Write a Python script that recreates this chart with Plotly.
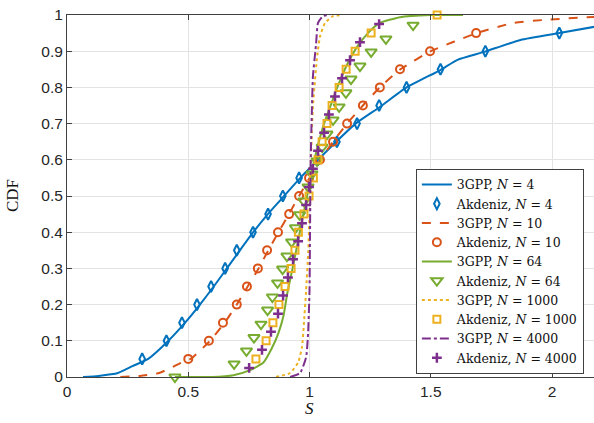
import plotly.graph_objects as go

# ---------------- data ----------------
# 3GPP, N = 4 (solid blue)
s_3gpp_4 = [0.066, 0.13, 0.21, 0.27, 0.335, 0.418, 0.487, 0.548, 0.605, 0.659, 0.713, 0.768,
            0.828, 0.895, 0.962, 1.035, 1.11, 1.19, 1.29, 1.40, 1.54, 1.61, 1.72, 1.87, 2.03, 2.18]
cdf_3gpp_4 = [0, 0.003, 0.011, 0.03, 0.05, 0.1, 0.15, 0.2, 0.25, 0.3, 0.35, 0.4,
              0.45, 0.5, 0.55, 0.6, 0.65, 0.70, 0.746, 0.80, 0.848, 0.876, 0.898, 0.931, 0.95, 0.968]

# Akdeniz, N = 4 (diamonds)
cdf_ak_4 = [0.05, 0.10, 0.15, 0.20, 0.25, 0.30, 0.35, 0.40, 0.45, 0.50,
            0.55, 0.60, 0.65, 0.70, 0.75, 0.80, 0.85, 0.90, 0.95]
s_ak_4 = [0.31, 0.41, 0.474, 0.536, 0.594, 0.652, 0.70, 0.767, 0.829, 0.89,
          0.957, 1.035, 1.113, 1.196, 1.287, 1.40, 1.54, 1.725, 2.03]

# 3GPP, N = 10 (dashed orange)
s_3gpp_10 = [0.22, 0.30, 0.38, 0.47, 0.51, 0.59, 0.65, 0.70, 0.745, 0.79, 0.83, 0.872, 0.915,
             0.957, 1.0, 1.045, 1.097, 1.155, 1.22, 1.29, 1.375, 1.50, 1.69, 1.84, 1.98, 2.18]
cdf_3gpp_10 = [0, 0.003, 0.011, 0.039, 0.05, 0.1, 0.15, 0.2, 0.25, 0.3, 0.35, 0.4, 0.45,
               0.5, 0.55, 0.6, 0.65, 0.7, 0.75, 0.8, 0.85, 0.9, 0.95, 0.978, 0.987, 0.995]

# Akdeniz, N = 10 (circles)
cdf_ak_10 = [0.05, 0.10, 0.15, 0.20, 0.25, 0.30, 0.35, 0.40, 0.45, 0.50,
             0.55, 0.60, 0.65, 0.70, 0.75, 0.80, 0.85, 0.90, 0.95]
s_ak_10 = [0.50, 0.585, 0.643, 0.70, 0.742, 0.787, 0.825, 0.870, 0.916, 0.957,
           0.998, 1.043, 1.097, 1.155, 1.22, 1.29, 1.373, 1.497, 1.687]

# 3GPP, N = 64 (solid green)
s_3gpp_64 = [0.445, 0.60, 0.686, 0.755, 0.81, 0.845, 0.871, 0.893, 0.908, 0.93, 0.96, 0.99,
             1.02, 1.06, 1.085, 1.118, 1.154, 1.196, 1.241, 1.29, 1.373, 1.497, 1.633]
cdf_3gpp_64 = [0, 0, 0.005, 0.019, 0.04, 0.08, 0.12, 0.17, 0.23, 0.3, 0.4, 0.5,
               0.6, 0.7, 0.746, 0.806, 0.862, 0.912, 0.95, 0.978, 0.994, 1.0, 1.0]

# Akdeniz, N = 64 (down triangles)
cdf_ak_64 = [0, 0.036, 0.072, 0.109, 0.146, 0.185, 0.221, 0.26, 0.298, 0.334, 0.373, 0.412, 0.448,
             0.486, 0.525, 0.561, 0.597, 0.635, 0.671, 0.71, 0.746, 0.785, 0.823, 0.859, 0.898,
             0.934, 0.972]
s_ak_64 = [0.445, 0.689, 0.740, 0.771, 0.80, 0.827, 0.847, 0.868, 0.889, 0.907, 0.926, 0.942, 0.959,
           0.977, 0.994, 1.01, 1.031, 1.052, 1.072, 1.097, 1.122, 1.15, 1.171, 1.208, 1.254,
           1.315, 1.427]

# 3GPP, N = 1000 (dotted yellow)
s_3gpp_1000 = [0.862, 0.92, 0.953, 0.969, 0.977, 0.986, 0.995, 1.002, 1.008, 1.014, 1.03,
               1.043, 1.064, 1.097, 1.134]
cdf_3gpp_1000 = [0, 0.011, 0.04, 0.083, 0.149, 0.24, 0.35, 0.5, 0.65, 0.746, 0.876,
                 0.94, 0.978, 0.997, 1.0]

# Akdeniz, N = 1000 (squares)
cdf_ak_1000 = [0.05, 0.10, 0.15, 0.20, 0.25, 0.30, 0.35, 0.40, 0.45, 0.50,
               0.55, 0.60, 0.65, 0.70, 0.75, 0.80, 0.85, 0.90, 0.95, 1.0]
s_ak_1000 = [0.779, 0.821, 0.849, 0.874, 0.899, 0.924, 0.940, 0.954, 0.977, 0.998,
             1.016, 1.035, 1.052, 1.072, 1.093, 1.122, 1.151, 1.188, 1.254, 1.526]

# 3GPP, N = 4000 (dash-dot purple)
s_3gpp_4000 = [0.92, 0.961, 0.986, 0.994, 1.0, 1.002, 1.005, 1.01, 1.014, 1.027, 1.035, 1.056, 1.085]
cdf_3gpp_4000 = [0, 0.011, 0.055, 0.12, 0.24, 0.4, 0.6, 0.746, 0.83, 0.92, 0.978, 0.997, 1.0]

# Akdeniz, N = 4000 (plus)
cdf_ak_4000 = [0.025, 0.075, 0.125, 0.175, 0.225, 0.275, 0.325, 0.375, 0.425, 0.475,
               0.525, 0.575, 0.625, 0.675, 0.725, 0.775, 0.825, 0.875, 0.925, 0.975]
s_ak_4000 = [0.751, 0.804, 0.841, 0.870, 0.891, 0.911, 0.932, 0.953, 0.969, 0.986,
             0.998, 1.014, 1.035, 1.060, 1.080, 1.105, 1.134, 1.167, 1.208, 1.287]

x_ticks = [0, 0.5, 1, 1.5, 2]
x_tick_labels = ["0", "0.5", "1", "1.5", "2"]
y_ticks = [0, 0.1, 0.2, 0.3, 0.4, 0.5, 0.6, 0.7, 0.8, 0.9, 1]
y_tick_labels = ["0", "0.1", "0.2", "0.3", "0.4", "0.5", "0.6", "0.7", "0.8", "0.9", "1"]

# ---------------- style ----------------
BLUE = "#0072BD"
ORANGE = "#D95319"
YELLOW = "#EDB120"
PURPLE = "#7E2F8E"
GREEN = "#77AC30"
AXC = "#404040"

fig = go.Figure()

def line(x, y, name, color, dash):
    fig.add_trace(go.Scatter(x=x, y=y, mode="lines", name=name,
                             line=dict(color=color, width=2, dash=dash,
                                       shape="spline", smoothing=0.5)))

def marks(x, y, name, color, symbol, size, lw=2):
    fig.add_trace(go.Scatter(x=x, y=y, mode="markers", name=name, cliponaxis=False,
                             marker=dict(symbol=symbol, size=size, color=color,
                                         line=dict(color=color, width=lw))))

line(s_3gpp_4, cdf_3gpp_4, "3GPP, <i>N</i> = 4", BLUE, "solid")
marks(s_ak_4, cdf_ak_4, "Akdeniz, <i>N</i> = 4", BLUE, "diamond-tall-open", 8)
line(s_3gpp_10, cdf_3gpp_10, "3GPP, <i>N</i> = 10", ORANGE, "dash")
marks(s_ak_10, cdf_ak_10, "Akdeniz, <i>N</i> = 10", ORANGE, "circle-open", 8)
line(s_3gpp_64, cdf_3gpp_64, "3GPP, <i>N</i> = 64", GREEN, "solid")
marks(s_ak_64, cdf_ak_64, "Akdeniz, <i>N</i> = 64", GREEN, "triangle-down-open", 10)
line(s_3gpp_1000, cdf_3gpp_1000, "3GPP, <i>N</i> = 1000", YELLOW, "dot")
marks(s_ak_1000, cdf_ak_1000, "Akdeniz, <i>N</i> = 1000", YELLOW, "square-open", 7)
line(s_3gpp_4000, cdf_3gpp_4000, "3GPP, <i>N</i> = 4000", PURPLE, "dashdot")
marks(s_ak_4000, cdf_ak_4000, "Akdeniz, <i>N</i> = 4000", PURPLE, "cross-thin-open", 7, 2.5)

fig.update_layout(
    width=594, height=423,
    margin=dict(l=67, r=0, t=15, b=46),
    paper_bgcolor="white", plot_bgcolor="white",
    showlegend=True,
    legend=dict(x=0.662, y=0.575, xanchor="left", yanchor="top",
                bgcolor="white", bordercolor=AXC, borderwidth=1,
                font=dict(family="DejaVu Serif", size=12.5, color="#111111"),
                tracegroupgap=0),
    font=dict(family="Liberation Sans", size=15.5, color="#262626"),
)
fig.update_xaxes(range=[0, 2.173], tickvals=x_ticks, ticktext=x_tick_labels,
                 showgrid=True, gridcolor="#e3e3e3", gridwidth=1,
                 zeroline=False, showline=True, linecolor=AXC, linewidth=1,
                 mirror="ticks", ticks="inside", ticklen=5, tickcolor=AXC,
                 tickfont=dict(family="Liberation Sans", size=15.5, color="#262626"))
fig.update_yaxes(range=[0, 1], tickvals=y_ticks, ticktext=y_tick_labels,
                 showgrid=True, gridcolor="#e3e3e3", gridwidth=1,
                 zeroline=False, showline=True, linecolor=AXC, linewidth=1,
                 ticks="inside", ticklen=5, tickcolor=AXC,
                 tickfont=dict(family="Liberation Sans", size=15.5, color="#262626"))

fig.add_annotation(text="CDF", xref="paper", yref="paper", x=0, y=0.5,
                   xanchor="center", yanchor="middle", xshift=-55, textangle=-90,
                   showarrow=False, font=dict(family="Liberation Serif", size=17, color="#111111"))
fig.add_annotation(text="<i>S</i>", xref="x", yref="paper", x=1.0, y=0,
                   xanchor="center", yanchor="middle", yshift=-31,
                   showarrow=False, font=dict(family="Liberation Serif", size=17, color="#111111"))

fig.write_html("out.html")
